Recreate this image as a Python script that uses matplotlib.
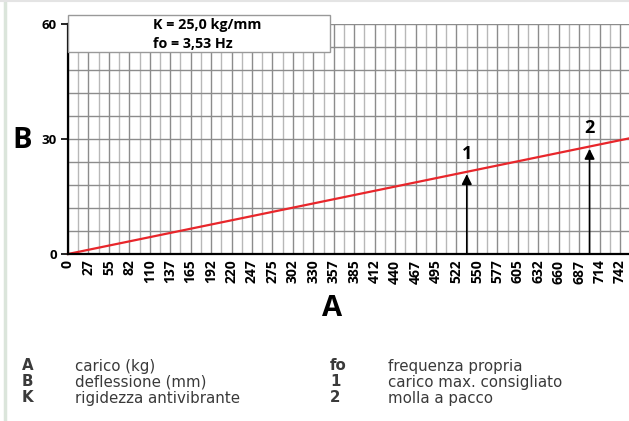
import matplotlib.pyplot as plt
from matplotlib.patches import Rectangle

# data
k_rate = 25.0  # kg/mm
load_max = 754
x_ticks = [27.48 * i for i in range(28)]
x_labels = ["0", "27", "55", "82", "110", "137", "165", "192", "220", "247",
            "275", "302", "330", "357", "385", "412", "440", "467", "495",
            "522", "550", "577", "605", "632", "660", "687", "714", "742"]
y_ticks = [0, 30, 60]
line_x = [0, load_max]
line_y = [0, load_max / k_rate]
marks = ["1", "2"]
mark_x = [536, 701]
legend_left = [("A", "carico (kg)"), ("B", "deflessione (mm)"), ("K", "rigidezza antivibrante")]
legend_right = [("fo", "frequenza propria"), ("1", "carico max. consigliato"), ("2", "molla a pacco")]

plt.rcParams['font.family'] = ['Open Sans', 'DejaVu Sans']

fig = plt.figure(figsize=(6.29, 4.21), dpi=100)
W, H = 629, 421
ax = fig.add_axes([68 / W, 1 - 254 / H, 1 - 68 / W, (254 - 24) / H])

# grid
for i in range(56):
    xv = 13.74 * i
    if xv > load_max:
        break
    c = "#8c8c8c" if i % 2 == 0 else "#b8b8b8"
    ax.axvline(xv, color=c, lw=1, zorder=1)
for yv in range(6, 61, 6):
    ax.axhline(yv, color="#8c8c8c", lw=1, zorder=1)

ax.plot(line_x, line_y, color="#e8262b", lw=1.6, zorder=3, clip_on=False)

for m, xv in zip(marks, mark_x):
    yv = xv / k_rate - 0.6
    ax.annotate("", xy=(xv, yv), xytext=(xv, 0),
                arrowprops=dict(arrowstyle="-|>", color="black", lw=1.2,
                                mutation_scale=15, shrinkA=0, shrinkB=0), zorder=4)
    ax.text(xv, yv + 5.3, m, ha="center", va="center", fontsize=13,
            fontweight="bold", zorder=5)

ax.set_xlim(0, load_max)
ax.set_ylim(0, 60)
ax.set_xticks(x_ticks)
ax.set_xticklabels(x_labels, rotation=90, fontsize=10, fontweight="bold")
ax.set_yticks(y_ticks)
ax.set_yticklabels([str(v) for v in y_ticks], fontsize=9.5, fontweight="bold")
ax.tick_params(axis="x", length=0, pad=4)
ax.tick_params(axis="y", length=5, width=1.2, pad=3)
for s in ["top", "right"]:
    ax.spines[s].set_visible(False)
for s in ["left", "bottom"]:
    ax.spines[s].set_linewidth(1.6)
    ax.spines[s].set_zorder(6)

# box with parameters
fig.patches.append(Rectangle((68 / W, 1 - 52 / H), (330 - 68) / W, 37 / H,
                             transform=fig.transFigure, facecolor="white",
                             edgecolor="#999999", lw=1, zorder=10))
fig.text(153 / W, 1 - 25 / H, "K = 25,0 kg/mm", fontsize=10.3, fontweight="bold",
         va="center", ha="left", zorder=11)
fig.text(153 / W, 1 - 44 / H, "fo = 3,53 Hz", fontsize=10.3, fontweight="bold",
         va="center", ha="left", zorder=11)

fig.text(22 / W, 1 - 140 / H, "B", fontsize=21, fontweight="bold", ha="center", va="center")
fig.text(332 / W, 1 - 308 / H, "A", fontsize=21, fontweight="bold", ha="center", va="center")

# frame lines
fig.add_artist(plt.Line2D([4.5 / W, 4.5 / W], [0, 1], color="#dbe5db", lw=2.5))
fig.add_artist(plt.Line2D([0, 1], [1 - 0.5 / H, 1 - 0.5 / H], color="#e4e4e4", lw=1.5))

# legend
leg_font = ["Liberation Sans Narrow", "DejaVu Sans"]
rows_y = [366, 382, 398]
for (k, d), yp in zip(legend_left, rows_y):
    fig.text(22 / W, 1 - yp / H, k, fontsize=10.8, fontweight="bold", color="#3a3a3a",
             va="center", family=leg_font)
    fig.text(75 / W, 1 - yp / H, d, fontsize=10.8, color="#3a3a3a", va="center", family=leg_font)
for (k, d), yp in zip(legend_right, rows_y):
    fig.text(330 / W, 1 - yp / H, k, fontsize=10.8, fontweight="bold", color="#3a3a3a",
             va="center", family=leg_font)
    fig.text(388 / W, 1 - yp / H, d, fontsize=10.8, color="#3a3a3a", va="center", family=leg_font)

fig.savefig("out.png", dpi=100)
